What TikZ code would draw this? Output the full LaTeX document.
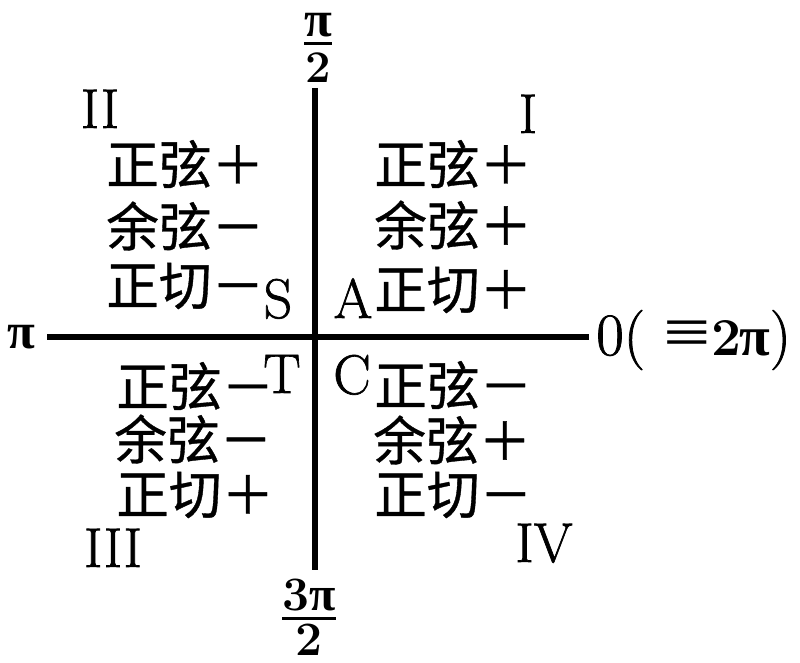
\documentclass[tikz,border=0pt]{standalone}
\usepackage{fontspec}
\newfontfamily\cjk[FakeBold=0.7]{Noto Sans CJK SC}
\newfontfamily\lmr[FakeBold=1.2]{Latin Modern Roman}
\newfontfamily\grk{Liberation Serif}
\newcommand{\stackfrac}[4]{\vbox{\offinterlineskip\halign{\hfil##\hfil\cr #1\cr\noalign{\kern#3\hrule height 2.2pt\kern#4}#2\cr}}}
\tikzset{
  axisline/.style={line width=4.5pt, line cap=butt},
  row/.style={inner sep=0pt, anchor=west, font=\cjk\fontsize{39.5}{42}\selectfont},
  lbl/.style={inner sep=0pt, anchor=base, font=\lmr\fontsize{42}{46}\selectfont},
  fracl/.style={inner sep=0pt, anchor=south},
}
\begin{document}
\begin{tikzpicture}[x=0.75pt,y=-0.75pt]
\fill[white] (0,0) rectangle (800,663);
\useasboundingbox (0,0) rectangle (800,663);
% axes
\coordinate (L) at (47,337);
\coordinate (R) at (589,337);
\coordinate (T) at (315,88);
\coordinate (B) at (315,570);
\draw[axisline] (L) -- (R);
\draw[axisline] (T) -- (B);
% axis labels
\node[lbl, font=\grk\fontsize{38}{40}\selectfont\bfseries] (pi) at (21,348) {π};
\node[lbl, anchor=base west, font=\lmr\fontsize{45}{50}\selectfont] (zero) at (596,355)
  {0(\hspace{14pt}{\grk\scalebox{1.4}[1.15]{≡}}{\normalfont\fontsize{40}{44}\selectfont\bfseries 2}\hspace{-1.5pt}{\grk\fontsize{42}{46}\selectfont\bfseries π})};
\node[fracl, font=\fontsize{34}{40}\selectfont\bfseries] (half) at (318,83)
  {\stackfrac{{\grk\fontsize{38}{40}\selectfont π}}{2}{3.5pt}{6pt}};
\node[fracl, font=\fontsize{36}{40}\selectfont\bfseries] (threehalf) at (309,656)
  {\stackfrac{3{\grk π}}{2}{4.5pt}{3pt}};
% quadrant numerals
\node[lbl] (q1) at (528,133) {I};
\node[lbl] (q2) at (100,128) {II};
\node[lbl] (q3) at (113,567) {III};
\node[lbl] (q4) at (544,562) {IV};
% ASTC letters
\node[lbl] (A) at (353,318) {A};
\node[lbl] (S) at (278,318) {S};
\node[lbl] (Tl) at (282,393) {T};
\node[lbl] (C) at (352,394) {C};
% quadrant I
\node[row] (q1a) at (374,164) {正弦＋};
\node[row] (q1b) at (374,225) {余弦＋};
\node[row] (q1c) at (374,290) {正切＋};
% quadrant II
\node[row] (q2a) at (106,164) {正弦＋};
\node[row] (q2b) at (106,226) {余弦－};
\node[row] (q2c) at (106,286) {正切－};
% quadrant III
\node[row] (q3a) at (116,386) {正弦－};
\node[row] (q3b) at (114,439) {余弦－};
\node[row] (q3c) at (116,495) {正切＋};
% quadrant IV
\node[row] (q4a) at (374,385) {正弦－};
\node[row] (q4b) at (373,440) {余弦＋};
\node[row] (q4c) at (374,495) {正切－};
\end{tikzpicture}
\end{document}
